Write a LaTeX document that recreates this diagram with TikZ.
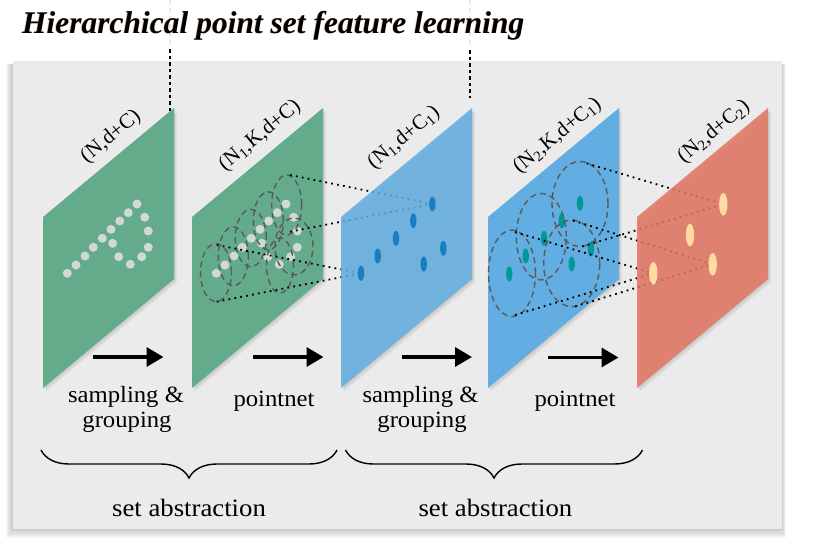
\documentclass[tikz,border=0pt]{standalone}
\usepackage{fontspec}
\usepackage{graphicx}
\setmainfont{Liberation Serif}
\usetikzlibrary{arrows.meta,decorations.pathreplacing}
\definecolor{bggray}{HTML}{EBEBEB}
\definecolor{pgreen}{HTML}{63AB8A}
\definecolor{pblue}{HTML}{62ADE2}
\definecolor{pred}{HTML}{E37563}
\definecolor{gdot}{HTML}{D2D7D7}
\definecolor{bdot}{HTML}{1A7DC0}
\definecolor{tdot}{HTML}{00999A}
\definecolor{rdot}{HTML}{FFDBA3}
\definecolor{ellgray}{HTML}{5A5A5A}
\definecolor{tshadow}{HTML}{B86A1E}
\newcommand{\panelpath}[1]{(#1,217) -- ++(131,-109) -- ++(0,171) -- ++(-131,109) -- cycle}
\tikzset{
  titlefont/.style={font=\fontsize{31.5}{36}\selectfont\bfseries\itshape, inner sep=0pt, anchor=base west},
  dimlabel/.style={font=\fontsize{21}{24}\selectfont, inner sep=0pt, rotate=39.5},
  lowtext/.style={font=\fontsize{23.3}{27}\selectfont, inner sep=0pt, anchor=base},
  satext/.style={font=\fontsize{25}{29}\selectfont, inner sep=0pt, anchor=base},
  projline/.style={black, line width=1.8pt, dash pattern=on 1.8pt off 4.2pt},
  vline/.style={black, line width=2.2pt, dash pattern=on 3.5pt off 3pt},
  faintline/.style={black!9, line width=1.6pt, dash pattern=on 4pt off 4pt},
  ballring/.style={ellgray, line width=1.4pt, dash pattern=on 6pt off 4pt},
  flowarrow/.style={black, line width=3.5pt, -{Triangle[length=17pt,width=19pt]}},
  bracestyle/.style={black, line width=1.4pt, decorate, decoration={brace, mirror, amplitude=28pt}},
}
\newcommand{\panelshadow}[1]{%
  \foreach \k in {1,...,4}{\fill[black,opacity=0.035,shift={(\k*0.8,\k*0.9)}] \panelpath{#1};}}
\begin{document}
\begin{tikzpicture}[x=1pt,y=-1pt]
\useasboundingbox (0,0) rectangle (814,549);
% background with soft shadow
\foreach \k in {0,...,7}{
  \fill[black,opacity=0.028] (12.5-1-\k*0.8,64) rectangle (782+\k*0.5,529+1+\k*1.2);
}
\fill[bggray] (12.5,61) rectangle (782,529);

% faint continuations of the vertical lines
\coordinate (f1t) at (170,0);
\coordinate (f1b) at (170,46);
\coordinate (f2t) at (470,0);
\coordinate (f2b) at (470,46);
\draw[faintline] (f1t) -- (f1b);
\draw[faintline] (f2t) -- (f2b);

% title
\node[titlefont, text=tshadow, opacity=0.45] (titleshadow) at (21.2,33.8) {Hierarchical point set feature learning};
\node[titlefont] (title) at (22,33) {Hierarchical point set feature learning};

% ---------- panel 1 ----------
\panelshadow{43}
\fill[pgreen] \panelpath{43};
\foreach \p in {(67.3,273.3),(76,265),(85,256),(93.3,247.3),(102.3,238.3),(111,229.3),(119.7,221),(128.3,212.7),(137,204),(144.7,217.3),(148.3,231),(148.3,247.3),(141.7,256.7),(130.3,264.3),(118.7,256.7),(112.7,243.3)}
  \fill[gdot] \p circle (4.5pt);

% ---------- panel 2 ----------
\panelshadow{192}
\fill[pgreen] \panelpath{192};
\begin{scope}[shift={(149,0)}]
\foreach \p in {(67.3,273.3),(76,265),(85,256),(93.3,247.3),(102.3,238.3),(111,229.3),(119.7,221),(128.3,212.7),(137,204),(144.7,217.3),(148.3,231),(148.3,247.3),(141.7,256.7),(130.3,264.3),(118.7,256.7),(112.7,243.3)}
  \fill[gdot] \p circle (4.5pt);
\end{scope}
\draw[ballring] (216,272.5) ellipse [x radius=15.5pt, y radius=29pt];
\draw[ballring] (233.3,256.3) ellipse [x radius=15pt, y radius=29.5pt];
\draw[ballring] (250.8,238) ellipse [x radius=15.5pt, y radius=28.7pt];
\draw[ballring] (268.3,220.8) ellipse [x radius=15pt, y radius=29pt];
\draw[ballring] (286.7,205) ellipse [x radius=15pt, y radius=30pt];
\draw[ballring] (294,246.5) ellipse [x radius=19pt, y radius=28.5pt];
\draw[ballring] (280,265.5) ellipse [x radius=13.5pt, y radius=27.5pt];

\coordinate (e5t) at (290,175);
\coordinate (e5b) at (290,231.7);
\coordinate (e1t) at (216.7,245);
\coordinate (e1b) at (216.7,301.7);
\coordinate (P3a) at (432.3,204);
\coordinate (P3e) at (361,273.3);
\draw[projline] (e5t) -- (P3a);
\draw[projline] (e5b) -- (P3a);
\draw[projline] (e1t) -- (P3e);
\draw[projline] (e1b) -- (P3e);

% ---------- panel 3 ----------
\panelshadow{341}
\fill[pblue, opacity=0.86] \panelpath{341};
\foreach \p in {(432.3,204),(413.3,220.7),(396,238.3),(377.7,256),(361,273.3),(443.3,248.3),(423.7,264)}
  \fill[bdot] \p ellipse [x radius=3.2pt, y radius=7.5pt];

% ---------- panel 4 ----------
\panelshadow{488}
\fill[pblue] \panelpath{488};
\foreach \p in {(580,203.3),(561.7,220.7),(544,238.3),(525.7,256),(509.3,274),(591,249),(571.7,264)}
  \fill[tdot] \p ellipse [x radius=3.2pt, y radius=7.5pt];
\draw[ballring] (512,273.3) ellipse [x radius=23.5pt, y radius=43.3pt];
\draw[ballring] (541.3,236.7) ellipse [x radius=25pt, y radius=43.3pt];
\draw[ballring] (571.7,263.3) ellipse [x radius=28pt, y radius=43.3pt];
\draw[ballring] (580,204) ellipse [x radius=28pt, y radius=42.5pt];

\coordinate (g4t) at (586.7,163.3);
\coordinate (g4b) at (582,246.5);
\coordinate (g3t) at (573,220.5);
\coordinate (g3b) at (575,306.5);
\coordinate (g1t) at (515,232);
\coordinate (g1b) at (515,315);
\coordinate (P5a) at (723.3,204.3);
\coordinate (P5c) at (712.7,264.3);
\coordinate (P5d) at (653.3,273.3);
\draw[projline] (g4t) -- (P5a);
\draw[projline] (g4b) -- (P5a);
\draw[projline] (g3t) -- (P5c);
\draw[projline] (g3b) -- (P5c);
\draw[projline] (g1t) -- (P5d);
\draw[projline] (g1b) -- (P5d);

% ---------- panel 5 ----------
\panelshadow{637}
\fill[pred, opacity=0.86] \panelpath{637};
\foreach \p in {(723.3,204.3),(690,235),(712.7,264.3),(653.3,273.3)}
  \fill[rdot] \p ellipse [x radius=4.2pt, y radius=11.3pt];

% vertical dotted lines from the title
\coordinate (v1t) at (170,49);
\coordinate (v1b) at (170,111);
\coordinate (v2t) at (470,50);
\coordinate (v2b) at (470,98);
\draw[vline] (v1t) -- (v1b);
\draw[vline] (v2t) -- (v2b);

% dimension labels
\node[dimlabel] (lab1) at (111,137) {(N,d+C)};
\node[dimlabel] (lab2) at (260,136) {(N\textsubscript{1},K,d+C)};
\node[dimlabel] (lab3) at (404,138) {(N\textsubscript{1},d+C\textsubscript{1})};
\node[dimlabel] (lab4) at (557.5,136) {(N\textsubscript{2},K,d+C\textsubscript{1})};
\node[dimlabel] (lab5) at (714,132) {(N\textsubscript{2},d+C\textsubscript{2})};

% arrows
\coordinate (a1s) at (93,357);   \coordinate (a1e) at (163.5,357);
\coordinate (a2s) at (253,357);  \coordinate (a2e) at (323.5,357);
\coordinate (a3s) at (401.5,357);\coordinate (a3e) at (472,357);
\coordinate (a4s) at (548,357.5);\coordinate (a4e) at (618.5,357.5);
\draw[flowarrow] (a1s) -- (a1e);
\draw[flowarrow] (a2s) -- (a2e);
\draw[flowarrow] (a3s) -- (a3e);
\draw[flowarrow] (a4s) -- (a4e);

% step texts
\node[lowtext] (samp1) at (126,402) {\scalebox{1.06}[1]{sampling \&}};
\node[lowtext] (grp1) at (127,427) {\scalebox{1.06}[1]{grouping}};
\node[lowtext] (pn1) at (274,406) {\scalebox{1.06}[1]{pointnet}};
\node[lowtext] (samp2) at (420.5,402) {\scalebox{1.06}[1]{sampling \&}};
\node[lowtext] (grp2) at (422,427) {\scalebox{1.06}[1]{grouping}};
\node[lowtext] (pn2) at (575,406) {\scalebox{1.06}[1]{pointnet}};

% braces
\coordinate (b1s) at (41,450);  \coordinate (b1e) at (337,450);
\coordinate (b2s) at (345.5,450); \coordinate (b2e) at (642.5,450);
\draw[bracestyle] (b1s) -- (b1e);
\draw[bracestyle] (b2s) -- (b2e);

\node[satext] (sa1) at (189,516.7) {\scalebox{1.07}[1]{set abstraction}};
\node[satext] (sa2) at (495.4,516.7) {\scalebox{1.07}[1]{set abstraction}};
\end{tikzpicture}
\end{document}
